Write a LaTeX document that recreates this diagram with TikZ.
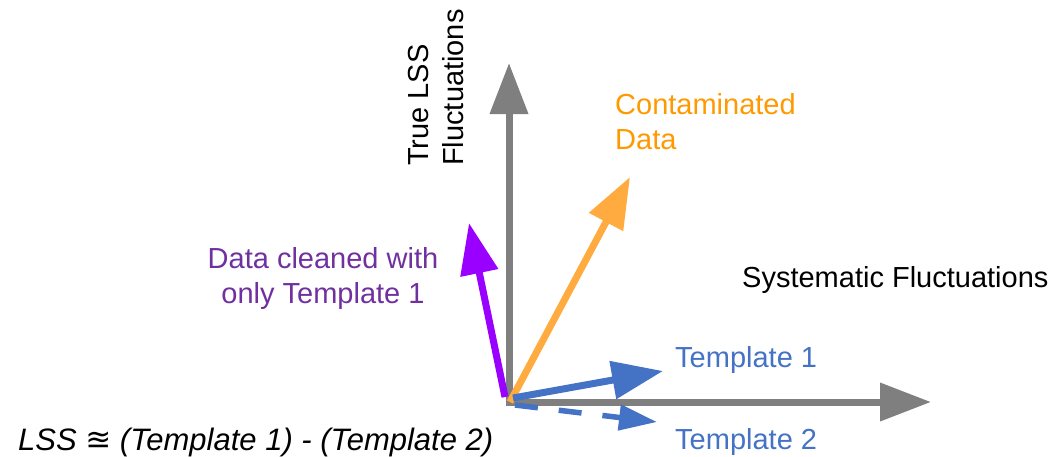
\documentclass[tikz,border=0pt]{standalone}
\usepackage{fontspec}
\setmainfont{Liberation Sans}
\newfontfamily\symfont{DejaVu Sans}
\usetikzlibrary{arrows.meta}
\definecolor{axisgray}{HTML}{7F7F7F}
\definecolor{orangearrow}{HTML}{FFAB40}
\definecolor{orangetext}{HTML}{FF9900}
\definecolor{purplearrow}{HTML}{9900FF}
\definecolor{purpletext}{HTML}{7030A0}
\definecolor{tblue}{HTML}{4472C4}
\begin{document}
\begin{tikzpicture}[x=1pt,y=-1pt,
  vec/.style={line width=7pt, -{Triangle[length=51pt,width=37pt]}},
  smallvec/.style={line width=5.5pt, -{Triangle[length=38pt,width=25pt]}},
  lbl/.style={inner sep=0pt, font=\fontsize{29}{35}\selectfont}]
\useasboundingbox (0,0) rectangle (1051,456);
% anchor points
\coordinate (Ov) at (509,405.5);
\coordinate (Oh) at (505.5,402);
\coordinate (Ytip) at (509,63);
\coordinate (Xtip) at (931,402);
\coordinate (Po) at (505,397);
\coordinate (Ptip) at (469,223);
\coordinate (Co) at (510,402);
\coordinate (Ctip) at (630,177);
\coordinate (T1o) at (513,398);
\coordinate (T1tip) at (663,371);
\coordinate (T2o) at (515,405);
\coordinate (T2tip) at (657,422);
% axes
\draw[vec, axisgray] (Ov) -- (Ytip);
\draw[vec, axisgray] (Oh) -- (Xtip);
% vectors
\draw[vec, purplearrow] (Po) -- (Ptip);
\draw[vec, orangearrow] (Co) -- (Ctip);
\draw[vec, tblue] (T1o) -- (T1tip);
\draw[smallvec, tblue, dash pattern=on 23pt off 21pt] (T2o) -- (T2tip);
% labels
\node[lbl, rotate=90, align=left, anchor=north west] (ylab) at (408,166) {True LSS\\Fluctuations};
\node[lbl, anchor=base west] (xlab) at (742,287) {Systematic Fluctuations};
\node[lbl, orangetext, align=left, anchor=north west] (clab) at (615,93) {Contaminated\\Data};
\node[lbl, purpletext, align=center, anchor=north] (plab) at (323,247) {Data cleaned with\\only Template 1};
\node[lbl, tblue, anchor=base west] (t1lab) at (675,367) {Template 1};
\node[lbl, tblue, anchor=base west] (t2lab) at (675,449.5) {Template 2};
\node[inner sep=0pt, font=\fontsize{31}{36}\selectfont\itshape, anchor=base west] (eq) at (18,450) {LSS {\symfont\itshape ≊} (Template 1) - (Template 2)};
\end{tikzpicture}
\end{document}
